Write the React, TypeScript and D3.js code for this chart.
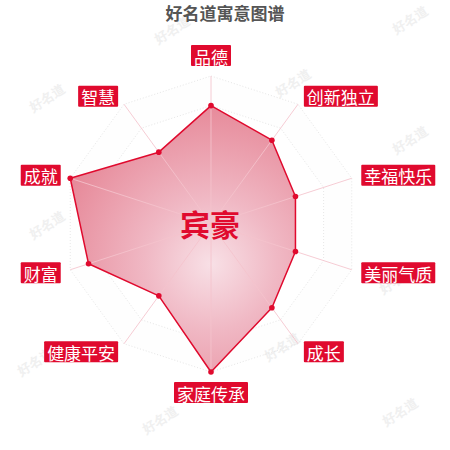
import { useEffect, useRef } from 'react'
import * as d3 from 'd3'

// Radar indicators, clockwise from the top
const INDICATORS = ['品德', '创新独立', '幸福快乐', '美丽气质', '成长', '家庭传承', '健康平安', '财富', '成就', '智慧']
// Scores (max 100)
const SCORES = [80, 70, 60, 60, 70, 100, 60, 87, 100, 60]
const MAX_SCORE = 100
const TITLE = '好名道寓意图谱'
const NAME = '宾豪'
const WATERMARK = '好名道'

const RED = '#e00a2e'
const FONT = '"Noto Sans CJK SC", "Noto Sans", sans-serif'

// faint watermark spots behind the chart
const MARKS: [number, number][] = [
  [172, 30], [410, 20], [47, 98], [293, 83], [410, 140],
  [47, 225], [300, 207], [397, 280], [35, 362], [282, 347], [160, 420], [400, 412],
]

const App = () => {
  const svgRef = useRef<SVGSVGElement>(null)

  useEffect(() => {
    if (!svgRef.current) return
    const svg = d3.select(svgRef.current)
    svg.selectAll('*').remove()

    const width = 450
    const cx = 211
    const cy = 224
    const radius = 148
    const n = INDICATORS.length
    const angleSlice = (Math.PI * 2) / n
    const rScale = d3.scaleLinear().domain([0, MAX_SCORE]).range([0, radius])
    const px = (r: number, i: number) => cx + r * Math.sin(angleSlice * i)
    const py = (r: number, i: number) => cy - r * Math.cos(angleSlice * i)

    // gradient for the area
    const defs = svg.append('defs')
    const grad = defs.append('radialGradient')
      .attr('id', 'areaGrad')
      .attr('gradientUnits', 'userSpaceOnUse')
      .attr('cx', cx).attr('cy', cy + 40).attr('r', 165)
    grad.append('stop').attr('offset', '0%').attr('stop-color', '#f8e0e6')
    grad.append('stop').attr('offset', '40%').attr('stop-color', '#f0b8c4')
    grad.append('stop').attr('offset', '100%').attr('stop-color', '#e68797')

    // watermarks
    svg.append('g')
      .selectAll('text')
      .data(MARKS)
      .enter()
      .append('text')
      .attr('transform', d => `translate(${d[0]},${d[1]}) rotate(-32)`)
      .attr('text-anchor', 'middle')
      .attr('dominant-baseline', 'central')
      .style('font-family', 'serif')
      .style('font-size', '13px')
      .style('font-weight', 'bold')
      .style('fill', '#f0f0f0')
      .text(WATERMARK)

    // title
    svg.append('text')
      .attr('x', width / 2)
      .attr('y', 12)
      .attr('text-anchor', 'middle')
      .attr('dominant-baseline', 'central')
      .style('font-family', FONT)
      .style('font-size', '17px')
      .style('font-weight', 'bold')
      .style('fill', '#555')
      .text(TITLE)

    const g = svg.append('g')

    // split areas and dotted polygon grid
    const levels = [1, 0.8, 0.6, 0.4, 0.2]
    const ring = (f: number) => d3.range(n).map(i => [px(radius * f, i), py(radius * f, i)] as [number, number])
    const poly = d3.line().curve(d3.curveLinearClosed)
    levels.forEach((f, j) => {
      g.append('path')
        .attr('d', poly(ring(f)) || '')
        .style('fill', j % 2 === 0 ? 'rgba(230,230,230,0.06)' : '#fff')
        .style('stroke', '#e6e6e6')
        .style('stroke-width', 1)
        .style('stroke-dasharray', '1,2')
    })

    // data area
    const pts = SCORES.map((s, i) => [px(rScale(s), i), py(rScale(s), i)] as [number, number])
    g.append('path')
      .attr('d', poly(pts) || '')
      .style('fill', 'url(#areaGrad)')
      .style('stroke', RED)
      .style('stroke-width', 1.5)
      .style('stroke-linejoin', 'round')

    // axis spokes (show through the area as light lines)
    g.selectAll('.spoke')
      .data(INDICATORS)
      .enter()
      .append('line')
      .attr('class', 'spoke')
      .attr('x1', cx)
      .attr('y1', cy)
      .attr('x2', (d, i) => px(radius, i))
      .attr('y2', (d, i) => py(radius, i))
      .style('stroke', '#f5c3cd')
      .style('stroke-opacity', 0.85)
      .style('stroke-width', 1)

    // points
    g.selectAll('.dot')
      .data(pts)
      .enter()
      .append('circle')
      .attr('class', 'dot')
      .attr('cx', d => d[0])
      .attr('cy', d => d[1])
      .attr('r', 2.8)
      .style('fill', RED)

    // center name
    g.append('text')
      .attr('x', cx - 1)
      .attr('y', cy - 1)
      .attr('text-anchor', 'middle')
      .attr('dominant-baseline', 'central')
      .style('font-family', FONT)
      .style('font-size', '30px')
      .style('font-weight', 'bold')
      .style('fill', RED)
      .text(NAME)

    // indicator labels in red boxes
    const boxH = 21
    const padX = 3
    INDICATORS.forEach((label, i) => {
      const r = radius + 10
      const x = px(r, i)
      const y = py(r, i)
      const s = Math.sin(angleSlice * i)
      const c = Math.cos(angleSlice * i)
      const lg = g.append('g')
      const rect = lg.append('rect').style('fill', RED).attr('rx', 1)
      const text = lg.append('text')
        .attr('text-anchor', 'middle')
        .attr('dominant-baseline', 'central')
        .style('font-family', FONT)
        .style('font-size', '17px')
        .style('fill', '#fff')
        .text(label)
      const tw = (text.node() as SVGTextElement).getComputedTextLength()
      const w = tw + padX * 2
      let left = x - w / 2
      if (Math.abs(s) >= 0.01) left = s > 0 ? x : x - w
      let top = y - boxH / 2
      if (Math.abs(s) < 0.01) top = c > 0 ? y - boxH : y
      rect.attr('x', left).attr('y', top).attr('width', w).attr('height', boxH)
      text.attr('x', left + w / 2).attr('y', top + boxH / 2 + 0.5)
    })
  }, [])

  return (
    <div style={{ position: 'absolute', left: 0, top: 0 }}>
      <svg ref={svgRef} width={450} height={450}></svg>
    </div>
  )
}

export default App
